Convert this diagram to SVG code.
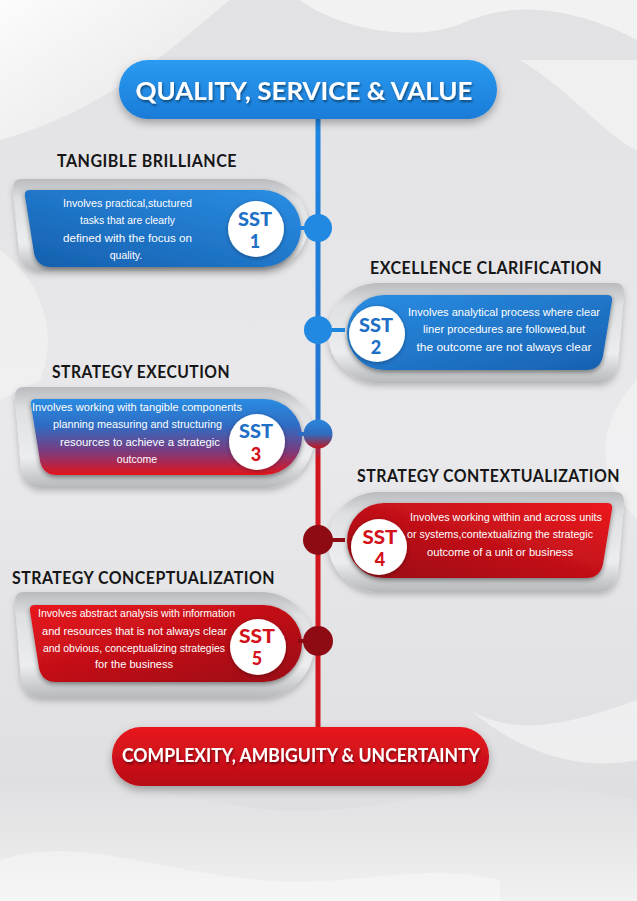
<svg xmlns="http://www.w3.org/2000/svg" width="637" height="901" viewBox="0 0 637 901">
  <defs>
    <style>
      .title { font-family: "Lato", "Liberation Sans", sans-serif; font-weight: 700; font-size: 16.5px; fill: #161616; letter-spacing: 0.5px; }
      .body { font-family: "Liberation Sans", Arial, sans-serif; font-size: 10.5px; fill: #ffffff; text-anchor: middle; }
      .sst { font-family: "Lato", "Liberation Sans", sans-serif; font-weight: 900; font-size: 18px; text-anchor: middle; }
      .blue { fill: #1e6fc6; }
      .red { fill: #d3121b; }
      .pill-text { font-family: "Lato", "Open Sans", "Liberation Sans", sans-serif; font-weight: 700; fill: #ffffff; text-anchor: middle; }
      .frame { fill: url(#gFrame); filter: url(#shFrame); }
      .disc { fill: #ffffff; filter: url(#shDisc); }
    </style>
    <linearGradient id="gBg" x1="0" y1="0" x2="0" y2="1">
      <stop offset="0" stop-color="#e2e2e4"/>
      <stop offset="0.5" stop-color="#e9e9eb"/>
      <stop offset="1" stop-color="#dcdcde"/>
    </linearGradient>
    <linearGradient id="gRibbon" x1="0" y1="0" x2="1" y2="1">
      <stop offset="0" stop-color="#ffffff" stop-opacity="0.9"/>
      <stop offset="1" stop-color="#ffffff" stop-opacity="0"/>
    </linearGradient>
    <linearGradient id="gRibbon2" x1="0" y1="1" x2="0" y2="0">
      <stop offset="0" stop-color="#ffffff" stop-opacity="0.6"/>
      <stop offset="1" stop-color="#ffffff" stop-opacity="0"/>
    </linearGradient>
    <linearGradient id="gFrame" x1="0" y1="0" x2="0" y2="1">
      <stop offset="0" stop-color="#b9bbbf"/>
      <stop offset="0.22" stop-color="#dfe0e2"/>
      <stop offset="0.7" stop-color="#ecedee"/>
      <stop offset="1" stop-color="#b6b8bb"/>
    </linearGradient>
    <linearGradient id="gTop" x1="0" y1="0" x2="0" y2="1">
      <stop offset="0" stop-color="#2b9af0"/>
      <stop offset="1" stop-color="#1a7cd8"/>
    </linearGradient>
    <linearGradient id="gBottom" x1="0" y1="0" x2="0" y2="1">
      <stop offset="0" stop-color="#e8161f"/>
      <stop offset="1" stop-color="#b80d16"/>
    </linearGradient>
    <linearGradient id="gBlueL" x1="0" y1="1" x2="1" y2="0">
      <stop offset="0" stop-color="#165fae"/>
      <stop offset="1" stop-color="#2a8ee4"/>
    </linearGradient>
    <linearGradient id="gBlueR" x1="0" y1="0" x2="1" y2="1">
      <stop offset="0" stop-color="#2a8ee4"/>
      <stop offset="1" stop-color="#1760b0"/>
    </linearGradient>
    <linearGradient id="gMix" x1="0" y1="0" x2="0" y2="1">
      <stop offset="0" stop-color="#2a8ce2"/>
      <stop offset="0.35" stop-color="#2f6cc4"/>
      <stop offset="0.7" stop-color="#7d3a7c"/>
      <stop offset="1" stop-color="#e3141c"/>
    </linearGradient>
    <linearGradient id="gRedR" x1="1" y1="0" x2="0" y2="1">
      <stop offset="0" stop-color="#ec1820"/>
      <stop offset="1" stop-color="#980a12"/>
    </linearGradient>
    <linearGradient id="gRedL" x1="0" y1="0" x2="1" y2="1">
      <stop offset="0" stop-color="#e8161e"/>
      <stop offset="1" stop-color="#9a0a12"/>
    </linearGradient>
    <linearGradient id="gSpine" x1="0" y1="118" x2="0" y2="728" gradientUnits="userSpaceOnUse">
      <stop offset="0" stop-color="#1f86e0"/>
      <stop offset="0.49" stop-color="#2374cf"/>
      <stop offset="0.53" stop-color="#8a3470"/>
      <stop offset="0.56" stop-color="#d2141c"/>
      <stop offset="1" stop-color="#d2141c"/>
    </linearGradient>
    <linearGradient id="gDotMix" x1="0" y1="0" x2="0" y2="1">
      <stop offset="0" stop-color="#2a86dc"/>
      <stop offset="0.5" stop-color="#2f6cc0"/>
      <stop offset="1" stop-color="#c0141e"/>
    </linearGradient>
    <filter id="shFrame" x="-10%" y="-15%" width="120%" height="140%">
      <feDropShadow dx="0" dy="3" stdDeviation="3" flood-color="#000" flood-opacity="0.22"/>
    </filter>
    <filter id="shCard" x="-10%" y="-15%" width="120%" height="140%">
      <feDropShadow dx="0" dy="2" stdDeviation="2.5" flood-color="#000" flood-opacity="0.45"/>
    </filter>
    <filter id="shDisc" x="-30%" y="-30%" width="160%" height="160%">
      <feDropShadow dx="0" dy="1" stdDeviation="2" flood-color="#000" flood-opacity="0.35"/>
    </filter>
    <filter id="shPill" x="-10%" y="-20%" width="120%" height="160%">
      <feDropShadow dx="0" dy="4" stdDeviation="4" flood-color="#000" flood-opacity="0.3"/>
    </filter>
    <filter id="shText" x="-5%" y="-30%" width="110%" height="160%">
      <feDropShadow dx="1" dy="2" stdDeviation="1" flood-color="#000" flood-opacity="0.45"/>
    </filter>
  </defs>

  <!-- background with soft ribbons -->
  <rect width="637" height="901" fill="url(#gBg)"/>
  <g id="background">
    <path d="M0,0 L230,0 C180,40 110,110 0,140 Z" fill="url(#gRibbon)"/>
    <path d="M300,0 C340,30 420,45 470,20 C520,0 580,10 637,40 L637,0 Z" fill="#ffffff" opacity="0.55"/>
    <path d="M520,60 C570,90 610,140 637,150 L637,60 Z" fill="#ffffff" opacity="0.45"/>
    <path d="M0,250 C40,280 60,330 40,380 L0,400 Z" fill="#ffffff" opacity="0.35"/>
    <path d="M637,380 C600,420 590,470 637,520 Z" fill="#ffffff" opacity="0.35"/>
    <path d="M0,790 C110,760 220,820 330,810 C440,800 520,770 637,800 L637,901 L0,901 Z" fill="url(#gRibbon2)"/>
    <path d="M0,860 C80,835 150,870 260,880 C360,888 420,860 500,880 L500,901 L0,901 Z" fill="#ffffff" opacity="0.35"/>
    <path d="M470,710 C520,740 580,720 637,700 L637,760 C590,770 530,760 470,710 Z" fill="#ffffff" opacity="0.45"/>
  </g>

  <!-- spine -->
  <g id="spine">
    <rect x="315.5" y="116" width="5" height="614" fill="url(#gSpine)"/>
  </g>

  <!-- top banner -->
  <g id="quality-service-value">
    <rect x="119" y="60" width="378" height="59" rx="29" fill="url(#gTop)" filter="url(#shPill)"/>
    <text class="pill-text" x="304" y="100" font-size="25" textLength="337" lengthAdjust="spacingAndGlyphs" filter="url(#shText)">QUALITY, SERVICE &amp; VALUE</text>
  </g>

  <!-- SST 1 -->
  <g id="sst1">
    <text class="title" x="57" y="167" textLength="180" lengthAdjust="spacingAndGlyphs">TANGIBLE BRILLIANCE</text>
    <path class="frame" d="M22,179 L262,179 A46,46 0 0 1 262,271 L40,271 Q22,271 19,252 L13,190 Q12,179 22,179 Z"/>
    <path fill="url(#gBlueL)" filter="url(#shCard)" d="M30,190 L262.5,190 A38.5,38.5 0 0 1 262.5,267 L51,267 Q37,267 34,253 L25,196 Q24,190 30,190 Z"/>
    <circle class="disc" cx="256" cy="229" r="28"/>
    <text class="sst blue" x="255" y="226" textLength="34" lengthAdjust="spacingAndGlyphs">SST</text>
    <text class="sst blue" x="255" y="248">1</text>
    <text class="body" x="127.5" y="207" textLength="129" lengthAdjust="spacingAndGlyphs">Involves practical,stuctured</text>
    <text class="body" x="127.5" y="224" textLength="95" lengthAdjust="spacingAndGlyphs">tasks that are clearly</text>
    <text class="body" x="127.5" y="242" textLength="129" lengthAdjust="spacingAndGlyphs">defined with the focus on</text>
    <text class="body" x="126" y="259">quality.</text>
  </g>

  <!-- SST 2 -->
  <g id="sst2">
    <text class="title" x="370" y="274" textLength="232" lengthAdjust="spacingAndGlyphs">EXCELLENCE CLARIFICATION</text>
    <path class="frame" d="M615,283 L378,283 A50,50 0 0 0 378,383 L597,383 Q615,383 618,364 L624,294 Q625,283 615,283 Z"/>
    <path fill="url(#gBlueR)" filter="url(#shCard)" d="M607,295 L384.5,295 A37.5,37.5 0 0 0 384.5,370 L586,370 Q600,370 603,356 L612,301 Q613,295 607,295 Z"/>
    <circle class="disc" cx="377" cy="334" r="28"/>
    <text class="sst blue" x="376" y="332" textLength="34" lengthAdjust="spacingAndGlyphs">SST</text>
    <text class="sst blue" x="376" y="354">2</text>
    <text class="body" x="504" y="316" textLength="192" lengthAdjust="spacingAndGlyphs">Involves analytical process where clear</text>
    <text class="body" x="504" y="333" textLength="162" lengthAdjust="spacingAndGlyphs">liner procedures are followed,but</text>
    <text class="body" x="504" y="351" textLength="175" lengthAdjust="spacingAndGlyphs">the outcome are not always clear</text>
  </g>

  <!-- SST 3 -->
  <g id="sst3">
    <text class="title" x="52" y="378" textLength="178" lengthAdjust="spacingAndGlyphs">STRATEGY EXECUTION</text>
    <path class="frame" d="M24,387 L263.5,387 A50.5,50.5 0 0 1 263.5,488 L42,488 Q24,488 21,469 L15,398 Q14,387 24,387 Z"/>
    <path fill="url(#gMix)" filter="url(#shCard)" d="M36,399 L264,399 A38,38 0 0 1 264,475 L57,475 Q43,475 40,461 L31,405 Q30,399 36,399 Z"/>
    <circle class="disc" cx="257" cy="442" r="28"/>
    <text class="sst blue" x="256" y="438" textLength="34" lengthAdjust="spacingAndGlyphs">SST</text>
    <text class="sst red" x="256" y="461">3</text>
    <text class="body" x="137" y="411" textLength="210" lengthAdjust="spacingAndGlyphs">Involves working with tangible components</text>
    <text class="body" x="137.5" y="428" textLength="169" lengthAdjust="spacingAndGlyphs">planning measuring and structuring</text>
    <text class="body" x="140" y="446" textLength="160" lengthAdjust="spacingAndGlyphs">resources to achieve a strategic</text>
    <text class="body" x="137" y="463">outcome</text>
  </g>

  <!-- SST 4 -->
  <g id="sst4">
    <text class="title" x="357" y="482" textLength="263" lengthAdjust="spacingAndGlyphs">STRATEGY CONTEXTUALIZATION</text>
    <path class="frame" d="M615,492 L378,492 A50,50 0 0 0 378,592 L597,592 Q615,592 618,573 L624,503 Q625,492 615,492 Z"/>
    <path fill="url(#gRedR)" filter="url(#shCard)" d="M607,503 L384.5,503 A37.5,37.5 0 0 0 384.5,578 L586,578 Q600,578 603,564 L612,509 Q613,503 607,503 Z"/>
    <circle class="disc" cx="379" cy="547" r="28"/>
    <text class="sst red" x="380" y="544" textLength="35" lengthAdjust="spacingAndGlyphs">SST</text>
    <text class="sst red" x="380" y="566">4</text>
    <text class="body" x="506" y="521" textLength="192" lengthAdjust="spacingAndGlyphs">Involves working within and across units</text>
    <text class="body" x="500" y="538" textLength="186" lengthAdjust="spacingAndGlyphs">or systems,contextualizing the strategic</text>
    <text class="body" x="500" y="556" textLength="146" lengthAdjust="spacingAndGlyphs">outcome of a unit or business</text>
  </g>

  <!-- SST 5 -->
  <g id="sst5">
    <text class="title" x="12" y="584" textLength="263" lengthAdjust="spacingAndGlyphs">STRATEGY CONCEPTUALIZATION</text>
    <path class="frame" d="M24,592 L261,592 A53,53 0 0 1 261,698 L42,698 Q24,698 21,679 L15,603 Q14,592 24,592 Z"/>
    <path fill="url(#gRedL)" filter="url(#shCard)" d="M35,605 L263.5,605 A38.5,38.5 0 0 1 263.5,682 L56,682 Q42,682 39,668 L30,611 Q29,605 35,605 Z"/>
    <circle class="disc" cx="258" cy="647" r="28"/>
    <text class="sst red" x="257" y="643" textLength="36" lengthAdjust="spacingAndGlyphs">SST</text>
    <text class="sst red" x="257" y="665">5</text>
    <text class="body" x="136.5" y="617" textLength="197" lengthAdjust="spacingAndGlyphs">Involves abstract analysis with information</text>
    <text class="body" x="134.5" y="635" textLength="185" lengthAdjust="spacingAndGlyphs">and resources that is not always clear</text>
    <text class="body" x="134" y="652" textLength="182" lengthAdjust="spacingAndGlyphs">and obvious, conceptualizing strategies</text>
    <text class="body" x="134" y="668" textLength="78" lengthAdjust="spacingAndGlyphs">for the business</text>
  </g>

  <!-- stubs and junction dots on the spine -->
  <g id="connectors">
    <line x1="298" y1="228" x2="318" y2="228" stroke="#1f86e0" stroke-width="4"/>
    <line x1="318" y1="330" x2="345" y2="330" stroke="#1f86e0" stroke-width="4"/>
    <line x1="298" y1="434" x2="318" y2="434" stroke="#2a6cc4" stroke-width="4"/>
    <line x1="318" y1="540" x2="345" y2="540" stroke="#8e0b14" stroke-width="4"/>
    <line x1="298" y1="641" x2="318" y2="641" stroke="#8e0b14" stroke-width="4"/>
    <circle cx="318" cy="228" r="14" fill="#2289e2"/>
    <circle cx="318" cy="330" r="14" fill="#2289e2"/>
    <circle cx="318" cy="434" r="14.5" fill="url(#gDotMix)"/>
    <circle cx="318" cy="540" r="15" fill="#8e0b14"/>
    <circle cx="318" cy="641" r="15" fill="#8e0b14"/>
  </g>

  <!-- bottom banner -->
  <g id="complexity-ambiguity-uncertainty">
    <rect x="112" y="727" width="377" height="59" rx="29" fill="url(#gBottom)" filter="url(#shPill)"/>
    <text class="pill-text" x="301" y="762" font-size="19.5" textLength="358" lengthAdjust="spacingAndGlyphs" filter="url(#shText)">COMPLEXITY, AMBIGUITY &amp; UNCERTAINTY</text>
  </g>
</svg>
